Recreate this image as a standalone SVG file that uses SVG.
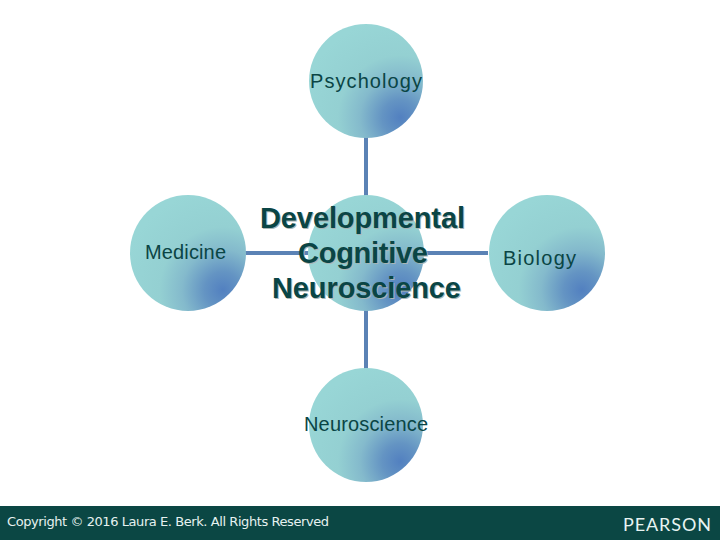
<svg xmlns="http://www.w3.org/2000/svg" width="720" height="540" viewBox="0 0 720 540">
<style>
text{font-family:"Liberation Sans",Arial,sans-serif;text-anchor:middle}
.n{fill:url(#g)}
.l{font-size:20px;fill:#0a4545;-webkit-text-stroke:.3px #0a4545}
.c{font-size:29px;font-weight:bold;fill:#0a4545}
.s{font-size:29px;font-weight:bold;fill:#a9b5b5}
.k{stroke:#5b82b5;stroke-width:4;fill:none}
</style>
<defs>
<radialGradient id="g" cx=".8" cy=".82" r=".88">
<stop offset="0" stop-color="#5280c0"/>
<stop offset=".18" stop-color="#6494c3"/>
<stop offset=".4" stop-color="#84bacc"/>
<stop offset=".62" stop-color="#94d0d2"/>
<stop offset="1" stop-color="#98d6d6"/>
</radialGradient>
</defs>
<rect width="720" height="540" fill="#fff"/>
<g id="connectors">
<path class="k" d="M366 136V198"/>
<path class="k" d="M366 308V370"/>
<path class="k" d="M245 253H488"/>
</g>
<g id="psychology"><circle class="n" cx="366" cy="81" r="57"/><text class="l" x="366" y="88" textLength="112">Psychology</text></g>
<g id="medicine"><circle class="n" cx="188" cy="253" r="58"/><text class="l" x="185.500" y="259" textLength="81">Medicine</text></g>
<g id="biology"><circle class="n" cx="547" cy="253" r="58"/><text class="l" x="539.500" y="265" textLength="73">Biology</text></g>
<g id="neuroscience"><circle class="n" cx="366" cy="425" r="57"/><text class="l" x="366" y="431" textLength="124">Neuroscience</text></g>
<g id="center"><circle class="n" cx="366" cy="253" r="58"/>
<text class="s" x="363.500" y="229" textLength="205">Developmental</text><text class="s" x="364" y="264" textLength="130">Cognitive</text><text class="s" x="367.500" y="299" textLength="189">Neuroscience</text>
<text class="c" x="362.500" y="228" textLength="205">Developmental</text><text class="c" x="363" y="263" textLength="130">Cognitive</text><text class="c" x="366.500" y="298" textLength="189">Neuroscience</text></g>
<g id="footer"><rect y="506" width="720" height="34" fill="#0b4744"/>
<text x="168" y="526" font-size="13" fill="#e6f2f0" style="font-family:'DejaVu Sans',sans-serif" textLength="322">Copyright © 2016 Laura E. Berk. All Rights Reserved</text>
<text x="667" y="531" font-size="18" fill="#e8f4f2" style="font-family:Lato,sans-serif" textLength="88">PEARSON</text></g>
</svg>
